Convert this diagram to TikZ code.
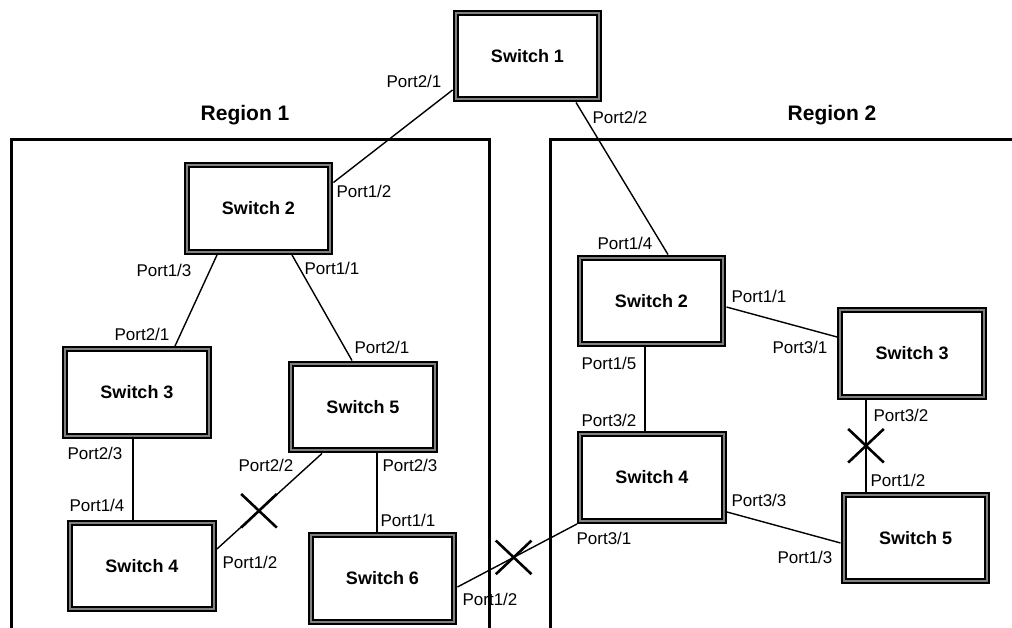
\documentclass[tikz,border=0pt]{standalone}
\usepackage{fontspec}
\setmainfont{Liberation Sans}
\usetikzlibrary{shapes.misc}
\begin{document}
\begin{tikzpicture}[x=1pt,y=-1pt,
  switchbox/.style={draw=black, line width=2pt, double=black!50, double distance=2.4pt,
    minimum width=143.5pt, minimum height=86.5pt, outer sep=3.2pt, inner sep=0pt,
    font=\fontsize{18}{21}\selectfont\bfseries, fill=white},
  region/.style={line width=3pt},
  conn/.style={line width=1.4pt},
  port/.style={font=\fontsize{17}{20}\selectfont, inner sep=0pt},
  regionlabel/.style={font=\fontsize{21}{24}\selectfont\bfseries, inner sep=0pt},
  blocked/.style={draw, cross out, line width=2.6pt, minimum width=33pt, minimum height=31pt, inner sep=0pt}
]
\useasboundingbox (0,0) rectangle (1012,628);
\fill[white] (0,0) rectangle (1012,628);

% regions
\draw[region] (11.5,645) coordinate (r1bl) -- (11.5,140) coordinate (r1tl) -- (489,140) coordinate (r1tr) -- (489,645) coordinate (r1br);
\draw[region] (1030,140) coordinate (r2tr) -- (550,140) coordinate (r2tl) -- (550,645) coordinate (r2bl);
\node[regionlabel] (reg1) at (245,115) {Region 1};
\node[regionlabel] (reg2) at (832,115) {Region 2};

% switches
\node[switchbox] (s1)   at (527.5,56)   {Switch 1};
\node[switchbox] (r1s2) at (258.5,208.5) {Switch 2};
\node[switchbox] (r1s3) at (137,392.5)  {Switch 3};
\node[switchbox] (r1s5) at (363,407)    {Switch 5};
\node[switchbox] (r1s4) at (142,566)    {Switch 4};
\node[switchbox] (r1s6) at (382.5,578.5) {Switch 6};
\node[switchbox] (r2s2) at (651.5,301)  {Switch 2};
\node[switchbox] (r2s3) at (912,353.5)  {Switch 3};
\node[switchbox] (r2s4) at (652,477.5)  {Switch 4};
\node[switchbox] (r2s5) at (915.5,538)  {Switch 5};

% connectors
\draw[conn] ([yshift=-34pt]s1.west) -- ([yshift=26pt]r1s2.east);
\draw[conn] ([xshift=48.5pt]s1.south) -- ([xshift=16.5pt]r2s2.north);
\draw[conn] ([xshift=-41.5pt]r1s2.south) -- ([xshift=38pt]r1s3.north);
\draw[conn] ([xshift=33.5pt]r1s2.south) -- ([xshift=-11pt]r1s5.north);
\draw[conn] ([xshift=-4pt]r1s3.south) -- ([xshift=-9pt]r1s4.north);
\draw[conn] ([xshift=-41pt]r1s5.south) -- coordinate[pos=0.6] (xa) ([yshift=17pt]r1s4.east);
\draw[conn] ([xshift=14pt]r1s5.south) -- ([xshift=-5.5pt]r1s6.north);
\draw[conn] ([yshift=-8.5pt]r1s6.east) -- coordinate[pos=0.47] (xb) (r2s4.south west);
\draw[conn] ([xshift=-6.5pt]r2s2.south) -- ([xshift=-7pt]r2s4.north);
\draw[conn] ([yshift=-6pt]r2s2.east) -- ([yshift=16.5pt]r2s3.west);
\draw[conn] ([xshift=-46pt]r2s3.south) -- coordinate[pos=0.5] (xc) ([xshift=-49.5pt]r2s5.north);
\draw[conn] ([yshift=-34.5pt]r2s4.east) -- ([yshift=-5pt]r2s5.west);

% blocked links
\node[blocked] (blka) at (xa) {};
\node[blocked] (blkb) at (xb) {};
\node[blocked] (blkc) at (xc) {};

% port labels
\node[port] (p1) at (414,81)  {Port2/1};
\node[port] (p2) at (364,191) {Port1/2};
\node[port] (p3) at (620,117) {Port2/2};
\node[port] (p4) at (164,270) {Port1/3};
\node[port] (p5) at (332,268) {Port1/1};
\node[port] (p6) at (142,334) {Port2/1};
\node[port] (p7) at (382,347) {Port2/1};
\node[port] (p8) at (95,453)  {Port2/3};
\node[port] (p9) at (97,505)  {Port1/4};
\node[port] (p10) at (266,465) {Port2/2};
\node[port] (p11) at (250,562) {Port1/2};
\node[port] (p12) at (410,465) {Port2/3};
\node[port] (p13) at (408,520) {Port1/1};
\node[port] (p14) at (490,599) {Port1/2};
\node[port] (p15) at (625,243) {Port1/4};
\node[port] (p16) at (759,296) {Port1/1};
\node[port] (p17) at (800,347) {Port3/1};
\node[port] (p18) at (609,363) {Port1/5};
\node[port] (p19) at (609,420) {Port3/2};
\node[port] (p20) at (901,415) {Port3/2};
\node[port] (p21) at (898,480) {Port1/2};
\node[port] (p22) at (759,500) {Port3/3};
\node[port] (p23) at (604,538) {Port3/1};
\node[port] (p24) at (805,557) {Port1/3};
\end{tikzpicture}
\end{document}
